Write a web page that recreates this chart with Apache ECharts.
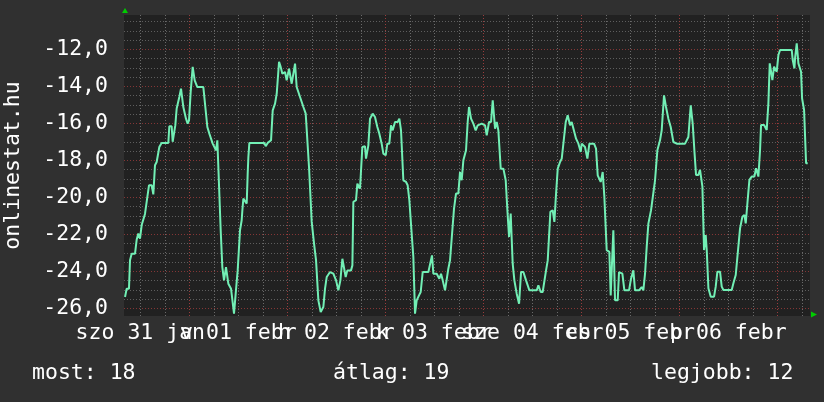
<!DOCTYPE html>
<html>
<head>
<meta charset="utf-8">
<script src="https://cdn.jsdelivr.net/npm/echarts@6/dist/echarts.min.js"></script>
<style>
html,body{margin:0;padding:0;background:#303030;}
#c{width:824px;height:402px;}
</style>
</head>
<body>
<div id="c"></div>
<script>
// hours since Sat 31 Jan 00:00
const hours = [
8.25,8.65,9.22,9.47,9.88,10.7,11.1,11.5,11.92,12.33,12.74,13.14,13.55,14.12,14.78,15.18,15.59,16.0,16.65,17.2,
18.86,19.1,19.67,19.92,20.25,20.57,20.9,21.55,21.96,22.53,23.18,23.59,23.92,24.33,24.82,25.31,25.96,27.43,27.84,28.41,
28.9,29.72,30.53,30.86,31.27,31.68,32.08,32.49,32.98,33.55,34.21,34.94,35.43,35.84,36.41,36.82,36.99,37.23,38.05,38.29,
38.46,38.7,42.37,42.7,43.19,44.01,44.42,44.99,45.4,45.97,46.37,46.78,47.44,47.84,48.42,49.07,49.89,50.29,51.11,51.93,
52.5,53.31,53.97,54.54,55.03,55.6,56.17,56.82,57.23,57.64,58.46,59.27,59.93,60.5,60.99,61.48,61.89,62.29,62.7,63.6,
63.93,64.17,64.82,65.15,65.8,66.37,67.02,67.27,67.84,68.25,68.9,69.47,70.04,70.53,71.1,71.51,72.09,72.49,72.98,73.39,
73.8,74.37,75.02,75.43,75.84,76.41,77.07,77.47,77.88,78.45,78.86,79.27,79.68,80.25,80.66,81.15,82.54,82.94,83.43,83.76,
84.58,85.23,85.64,86.05,86.62,87.03,87.43,87.84,88.41,88.82,89.31,89.88,90.29,90.7,91.11,91.76,92.17,92.5,92.99,93.56,
94.13,94.62,95.6,96.42,96.83,97.4,97.89,98.3,98.62,98.87,99.28,99.68,100.26,100.91,101.48,101.89,102.3,102.7,103.19,103.6,
104.17,104.75,105.24,105.81,106.46,107.28,109.07,109.48,110.05,110.54,111.36,111.77,112.42,112.99,113.4,113.81,114.22,114.79,115.2,115.69,
116.18,116.66,117.24,117.64,118.05,118.71,119.28,119.85,120.09,120.9,121.48,121.97,123.11,123.6,124.01,124.42,124.74,125.23,125.64,126.21,
126.86,127.19,127.84,128.25,128.91,129.23,130.05,130.54,131.68,132.17,132.74,133.15,134.13,134.78,135.19,135.6,136.01,136.42,137.07,138.05,
138.62,139.27,139.68,140.25,140.74,141.31,141.89,142.54,143.36,145.4,146.21,146.79,147.27,147.68,148.09,148.67,149.07,149.32,149.65,150.05,
150.46,150.71,151.12,151.69,152.5,152.91,153.32,153.97,154.38,154.79,156.83,157.24,157.81,158.3,158.87,159.44,159.93,160.26,160.67,161.16,
161.73,162.38,162.79,163.36,163.77,164.01,164.75,165.4,165.81,166.14,166.46,166.79,167.2,167.85,168.26,168.67,171.53,171.77,172.18,172.34,
172.75,173.16,173.81,174.06,174.55,174.79,175.04,175.44
];
const values = [
-25.39,-24.94,-24.94,-23.4,-23.05,-23.05,-22.3,-21.96,-22.23,-21.5,-21.5,-20.9,-20.25,-19.35,-19.35,-19.84,-18.27,-18.09,-17.28,-17.06,
-17.06,-16.16,-16.16,-17.0,-17.0,-16.1,-15.2,-14.58,-14.13,-15.12,-15.75,-16.02,-15.84,-14.3,-12.95,-13.68,-14.04,-14.04,-14.13,-16.2,
-16.56,-17.1,-17.46,-16.92,-16.92,-21.78,-23.77,-24.49,-23.77,-24.67,-24.94,-26.29,-25.0,-23.95,-21.78,-21.24,-20.7,-20.07,-20.34,-18.72,
-17.82,-17.06,-17.06,-17.24,-17.06,-16.92,-15.3,-14.94,-14.4,-12.68,-12.95,-13.32,-13.23,-13.68,-13.05,-13.86,-12.77,-14.04,-14.58,-15.12,
-15.48,-18.36,-21.33,-22.5,-23.41,-25.57,-26.2,-25.93,-24.94,-24.31,-24.04,-24.13,-24.49,-25.03,-24.49,-23.32,-23.41,-24.31,-23.95,-23.95,
-23.68,-20.25,-20.16,-19.26,-19.53,-17.28,-17.24,-17.91,-17.19,-15.75,-15.48,-15.66,-16.2,-16.56,-17.1,-17.64,-17.73,-17.1,-17.1,-16.11,
-16.38,-15.93,-15.93,-15.75,-16.38,-19.08,-19.17,-19.35,-20.16,-21.96,-23.23,-26.29,-25.57,-25.3,-25.12,-24.04,-24.04,-23.95,-23.14,-24.13,
-24.13,-24.4,-24.13,-24.49,-25.03,-25.03,-23.86,-23.41,-21.78,-20.61,-19.8,-19.8,-18.63,-19.08,-18.0,-17.46,-15.93,-15.12,-15.75,-16.02,
-16.38,-16.11,-16.02,-16.11,-16.65,-15.93,-15.93,-14.76,-14.76,-16.29,-15.93,-16.38,-18.45,-18.45,-19.08,-20.7,-22.14,-20.88,-23.59,-24.49,
-25.21,-25.75,-24.04,-24.04,-24.49,-25.03,-25.03,-24.76,-25.12,-25.12,-23.95,-23.41,-20.79,-20.7,-21.33,-19.8,-18.45,-18.09,-17.91,-16.92,
-15.93,-15.57,-16.11,-15.93,-15.84,-16.83,-17.1,-17.55,-17.1,-17.28,-17.91,-17.1,-17.1,-17.37,-18.81,-18.81,-19.17,-18.63,-19.98,-22.86,
-22.95,-25.3,-21.78,-25.57,-25.57,-24.04,-24.13,-25.03,-25.03,-24.4,-23.95,-25.03,-25.03,-24.85,-25.03,-24.13,-22.68,-21.42,-20.7,-19.08,
-17.46,-16.92,-16.38,-14.49,-15.12,-15.75,-16.2,-17.01,-17.1,-17.1,-16.74,-15.03,-16.02,-17.46,-18.79,-18.79,-18.52,-18.52,-19.42,-22.85,
-22.04,-22.85,-24.92,-25.37,-25.37,-24.83,-24.02,-24.02,-24.83,-25.01,-25.01,-24.65,-24.2,-23.03,-21.68,-21.05,-20.95,-21.41,-20.32,-19.06,
-18.88,-18.88,-18.43,-18.88,-17.44,-16.09,-16.09,-16.36,-14.92,-12.76,-12.76,-13.66,-12.94,-13.21,-12.31,-12.04,-12.04,-12.58,-13.03,-12.49,
-11.68,-12.76,-13.21,-14.65,-15.28,-15.37,-18.16,-18.16
];
// x tick labels (centred on noon of each day), split into two non-overlapping sets
const dayLabelHoursA = [12, 60, 108, 156];
const dayLabelsA = ['szo 31 jan', 'h 02 febr', 'sze 04 febr', 'p 06 febr'];
const dayLabelHoursB = [36, 84, 132];
const dayLabelsB = ['v 01 febr', 'k 03 febr', 'cs 05 febr'];
// vertical grid every 6 h (every 4th one, at midnight, is a major line)
const xGridHours = [12, 18, 24, 30, 36, 42, 48, 54, 60, 66, 72, 78, 84, 90, 96, 102, 108, 114,
  120, 126, 132, 138, 144, 150, 156, 162, 168, 174];
// horizontal grid every 0.5 (every 4th one is a major line with a label)
const yGridValues = [-26, -25.5, -25, -24.5, -24, -23.5, -23, -22.5, -22, -21.5, -21, -20.5, -20, -19.5,
  -19, -18.5, -18, -17.5, -17, -16.5, -16, -15.5, -15, -14.5, -14, -13.5, -13, -12.5, -12, -11.5, -11, -10.5];
const yLabelValues = [-26, -24, -22, -20, -18, -16, -14, -12];
const xMin = 8, xMax = 176;
const yMin = -26.416, yMax = -10.146;
const footer = ['most: 18', 'átlag: 19', 'legjobb: 12'];

const FONT = 'DejaVu Sans Mono';
const FS = 21.5;
const GRAY = '#5e5e5e';
const RED = '#843636';
const GRAY_V = '#6a6a6a';
const RED_V = '#983c3c';

const chart = echarts.init(document.getElementById('c'), null, {renderer: 'canvas'});
const data = hours.map((h, i) => [h, values[i]]);

function labelX(ticks, labels) {
  return {type: 'value', min: xMin, max: xMax, position: 'bottom',
    axisLine: {show: false}, axisTick: {show: false, customValues: ticks},
    splitLine: {show: false},
    axisLabel: {show: true, customValues: ticks, showMinLabel: true, showMaxLabel: true, hideOverlap: false, margin: 6,
      color: '#ffffff', fontFamily: FONT, fontSize: FS,
      formatter: function (v) { const i = ticks.indexOf(v); return i >= 0 ? labels[i] : ''; }}};
}

chart.setOption({
  animation: false,
  backgroundColor: '#303030',
  grid: {left: 124, right: 14, top: 15, bottom: 86, show: true, backgroundColor: '#212121', borderWidth: 0, containLabel: false, outerBoundsMode: 'none'},
  xAxis: [
    {type: 'value', min: xMin, max: xMax, position: 'bottom',
     axisLine: {show: false}, axisTick: {show: false, customValues: xGridHours},
     axisLabel: {show: false},
     splitLine: {show: true, lineStyle: {color: [GRAY_V, GRAY_V, RED_V, GRAY_V], width: 1, type: [1, 2]}}},
    labelX(dayLabelHoursA, dayLabelsA),
    labelX(dayLabelHoursB, dayLabelsB)
  ],
  yAxis: [
    {type: 'value', min: yMin, max: yMax, position: 'left',
     name: 'onlinestat.hu', nameLocation: 'middle', nameRotate: 90, nameGap: 100,
     nameTextStyle: {color: '#ffffff', fontFamily: FONT, fontSize: FS},
     axisLine: {show: false}, axisTick: {show: false, customValues: yGridValues},
     axisLabel: {show: true, customValues: yLabelValues, margin: 16, color: '#ffffff', fontFamily: FONT, fontSize: FS,
       formatter: function (v) { return v.toFixed(1).replace('.', ','); }},
     splitLine: {show: true, lineStyle: {color: [RED, GRAY, GRAY, GRAY], width: 1, type: [1, 2]}}}
  ],
  series: [{
    type: 'line', xAxisIndex: 0, yAxisIndex: 0, data: data,
    showSymbol: false, symbol: 'none',
    lineStyle: {color: '#72efb5', width: 2},
    z: 5
  }],
  graphic: [
    {type: 'polygon', shape: {points: [[122, 13], [128, 13], [125, 8]]}, style: {fill: '#00cc00'}},
    {type: 'polygon', shape: {points: [[811, 311.5], [811, 317.5], [817, 314.5]]}, style: {fill: '#00cc00'}},
    {type: 'text', left: 32, top: 362, style: {text: footer[0], fill: '#ffffff', font: FS + 'px "' + FONT + '"'}},
    {type: 'text', left: 333, top: 362, style: {text: footer[1], fill: '#ffffff', font: FS + 'px "' + FONT + '"'}},
    {type: 'text', left: 651, top: 362, style: {text: footer[2], fill: '#ffffff', font: FS + 'px "' + FONT + '"'}}
  ]
});
</script>
</body>
</html>
